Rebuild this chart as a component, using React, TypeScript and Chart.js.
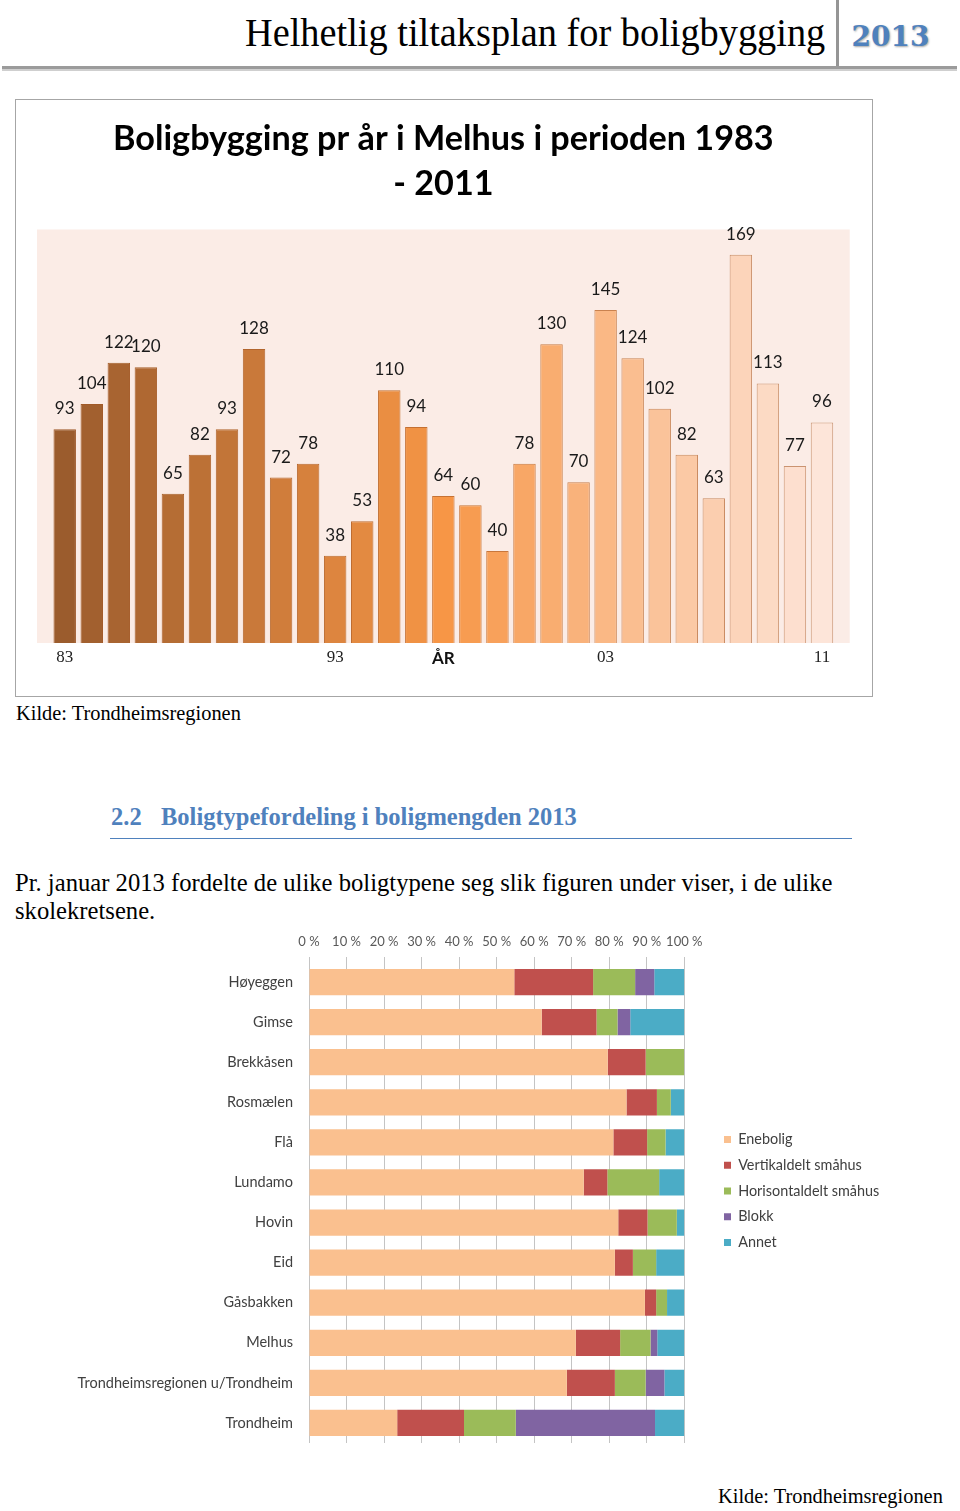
import React, { useEffect, useRef } from 'react';
import { Chart, registerables } from 'chart.js';

Chart.register(...registerables);

// ---------- Data: chart 1 (dwellings built per year, Melhus 1983-2011) ----------
const years = ['83', '84', '85', '86', '87', '88', '89', '90', '91', '92', '93', '94', '95', '96', '97', '98', '99', '00', '01', '02', '03', '04', '05', '06', '07', '08', '09', '10', '11'];
const dwellings = [93, 104, 122, 120, 65, 82, 93, 128, 72, 78, 38, 53, 110, 94, 64, 60, 40, 78, 130, 70, 145, 124, 102, 82, 63, 169, 113, 77, 96];
const shownYearTicks = ['83', '93', '03', '11'];
const chart1Title = ['Boligbygging pr år i Melhus i perioden 1983', '- 2011'];
const chart1AxisTitle = 'ÅR';

// ---------- Data: chart 2 (dwelling types per school district, %) ----------
const districts = ['Høyeggen', 'Gimse', 'Brekkåsen', 'Rosmælen', 'Flå', 'Lundamo', 'Hovin', 'Eid', 'Gåsbakken', 'Melhus', 'Trondheimsregionen u/Trondheim', 'Trondheim'];
const enebolig = [54.7, 62.0, 79.6, 84.6, 81.1, 73.2, 82.4, 81.5, 89.5, 71.1, 68.7, 23.5];
const vertikaldelt = [21.0, 14.6, 10.1, 8.1, 9.0, 6.3, 7.8, 4.8, 3.0, 11.8, 12.8, 17.8];
const horisontaldelt = [11.2, 5.6, 10.3, 3.7, 4.9, 13.8, 7.8, 6.2, 2.9, 8.1, 8.2, 13.8];
const blokk = [5.1, 3.4, 0, 0, 0, 0, 0, 0, 0, 1.8, 5.0, 37.1];
const annet = [8.0, 14.4, 0, 3.6, 5.0, 6.7, 2.0, 7.5, 4.6, 7.2, 5.3, 7.8];
const seriesNames = ['Enebolig', 'Vertikaldelt småhus', 'Horisontaldelt småhus', 'Blokk', 'Annet'];
const seriesColors = ['#fac08f', '#c0504d', '#9bbb59', '#8064a2', '#4bacc6'];

// ---------- style helpers ----------
const DARK = [155, 92, 45];
const MID = [247, 150, 70];
const LIGHT = [253, 229, 217];
const EDGE = [160, 85, 35];
function mix(a: number[], b: number[], t: number) {
  return a.map((v, k) => Math.round(v + (b[k] - v) * t));
}
function rgb(c: number[]) {
  return `rgb(${c[0]},${c[1]},${c[2]})`;
}
function barFill(i: number, n: number) {
  const midIdx = 14;
  return i <= midIdx ? mix(DARK, MID, i / midIdx) : mix(MID, LIGHT, (i - midIdx) / (n - 1 - midIdx));
}

const plotBgPlugin = {
  id: 'plotBg',
  beforeDatasetsDraw(chart: any) {
    const { ctx, chartArea } = chart;
    ctx.save();
    ctx.fillStyle = '#fbece6';
    ctx.fillRect(chartArea.left - 14.2, chartArea.top, chartArea.right - chartArea.left + 28.4, chartArea.bottom - chartArea.top);
    ctx.restore();
  },
};

const valueLabelPlugin = {
  id: 'valueLabels',
  afterDatasetsDraw(chart: any) {
    const { ctx } = chart;
    const meta = chart.getDatasetMeta(0);
    const values = chart.data.datasets[0].data;
    ctx.save();
    ctx.font = '17px Lato';
    ctx.fillStyle = '#1a1a1a';
    ctx.textAlign = 'center';
    ctx.textBaseline = 'middle';
    meta.data.forEach((el: any, i: number) => {
      ctx.fillText(String(values[i]), el.x, el.y - 20.5);
    });
    ctx.restore();
  },
};

// keeps the legend box at a fixed width so it starts where the reference legend starts
const LEGEND_WIDTH = 247.35;
const fixedLegendWidthPlugin = {
  id: 'fixedLegendWidth',
  afterInit(chart: any) {
    const leg = chart.legend;
    if (!leg || leg.__fixed) return;
    const orig = leg.fit.bind(leg);
    leg.fit = function () {
      orig();
      this.width = LEGEND_WIDTH;
    };
    leg.__fixed = true;
  },
};

export default function App() {
  const c1 = useRef<HTMLCanvasElement | null>(null);
  const c2 = useRef<HTMLCanvasElement | null>(null);

  useEffect(() => {
    const n = dwellings.length;
    const fills = dwellings.map((_, i) => rgb(barFill(i, n)));
    const borders = dwellings.map((_, i) => rgb(mix(barFill(i, n), EDGE, 0.55)));

    const chart1 = new Chart(c1.current as HTMLCanvasElement, {
      type: 'bar',
      data: {
        labels: years,
        datasets: [
          {
            data: dwellings,
            backgroundColor: fills,
            borderColor: borders,
            borderWidth: 1,
            barPercentage: 0.83,
            categoryPercentage: 1,
          },
        ],
      },
      options: {
        animation: false,
        responsive: false,
        maintainAspectRatio: false,
        layout: { padding: { left: 35.2, right: 35.5, top: 0, bottom: 12 } },
        plugins: {
          legend: { display: false },
          tooltip: { enabled: false },
          title: {
            display: true,
            text: chart1Title,
            color: '#000',
            font: { family: 'Lato', weight: 'bold', size: 34.2, lineHeight: 45 / 34.2 },
            padding: { top: 16.5, bottom: 23 },
          },
        },
        scales: {
          x: {
            grid: { display: false, drawTicks: false },
            border: { display: false },
            ticks: {
              autoSkip: false,
              maxRotation: 0,
              padding: 4,
              color: '#222',
              font: { family: 'Liberation Serif', size: 17 },
              callback: (_v: any, i: number) => (shownYearTicks.includes(years[i]) ? years[i] : ''),
            },
            title: {
              display: true,
              text: chart1AxisTitle,
              color: '#111',
              font: { family: 'Lato', weight: 'bold', size: 17 },
              padding: { top: 0, bottom: 13.8 },
            },
            afterFit: (s: any) => {
              s.height = 40;
            },
          },
          y: { display: false, min: 0, max: 180 },
        },
      } as any,
      plugins: [plotBgPlugin, valueLabelPlugin],
    });

    const seriesData = [enebolig, vertikaldelt, horisontaldelt, blokk, annet];
    const chart2 = new Chart(c2.current as HTMLCanvasElement, {
      type: 'bar',
      data: {
        labels: districts,
        datasets: seriesNames.map((name, k) => ({
          label: name,
          data: seriesData[k],
          backgroundColor: seriesColors[k],
          borderWidth: 0,
          barPercentage: 0.656,
          categoryPercentage: 1,
          xAxisID: 'x',
          yAxisID: 'y',
        })),
      },
      options: {
        indexAxis: 'y',
        animation: false,
        responsive: false,
        maintainAspectRatio: false,
        layout: { padding: { left: 0, right: 0, top: 0, bottom: 0 } },
        plugins: {
          tooltip: { enabled: false },
          legend: {
            position: 'right',
            align: 'center',
            labels: {
              boxWidth: 7,
              boxHeight: 7,
              padding: 11.35,
              color: '#404040',
              font: { family: 'Lato', size: 14.4 },
            },
          },
        },
        scales: {
          x: {
            position: 'top',
            stacked: true,
            min: 0,
            max: 100,
            ticks: {
              stepSize: 10,
              autoSkip: false,
              maxRotation: 0,
              padding: 7,
              color: '#595959',
              font: { family: 'Lato', size: 13 },
              callback: (v: any) => `${v} %`,
            },
            grid: { color: '#c4c4c4', tickLength: 5, drawTicks: true },
            border: { display: false },
            afterFit: (s: any) => {
              s.height = 51;
              s.paddingLeft = 0;
              s.paddingRight = 0;
            },
          },
          y: {
            stacked: true,
            grid: { display: false, drawTicks: false },
            border: { display: false },
            ticks: {
              autoSkip: false,
              padding: 16,
              color: '#404040',
              font: { family: 'Lato', size: 14.5 },
            },
            afterFit: (s: any) => {
              s.width = 309;
              s.paddingTop = 0;
              s.paddingBottom = 0;
            },
          },
          gapRight: {
            type: 'linear',
            axis: 'y',
            position: 'right',
            display: true,
            grid: { display: false, drawTicks: false },
            ticks: { display: false },
            border: { display: false },
            afterFit: (s: any) => {
              s.width = 28.35;
              s.paddingTop = 0;
              s.paddingBottom = 0;
            },
          },
          gapBottom: {
            type: 'linear',
            axis: 'x',
            position: 'bottom',
            display: true,
            grid: { display: false, drawTicks: false },
            ticks: { display: false },
            border: { display: false },
            afterFit: (s: any) => {
              s.height = 28;
              s.paddingLeft = 0;
              s.paddingRight = 0;
            },
          },
        },
      } as any,
      plugins: [fixedLegendWidthPlugin],
    });

    return () => {
      chart1.destroy();
      chart2.destroy();
    };
  }, []);

  const serif = "'Liberation Serif', 'Times New Roman', serif";
  const abs = (o: React.CSSProperties): React.CSSProperties => ({ position: 'absolute', whiteSpace: 'nowrap', margin: 0, ...o });

  return (
    <div style={{ position: 'absolute', left: 0, top: 0, width: 960, height: 1511, background: '#fff', overflow: 'hidden' }}>
      {/* Page header */}
      <div style={abs({ left: 245, top: 12.4, fontFamily: serif, fontSize: 41, lineHeight: '41px', color: '#000', transform: 'scaleX(0.935)', transformOrigin: 'left top' })}>
        Helhetlig tiltaksplan for boligbygging
      </div>
      <div style={abs({ left: 836, top: 0, width: 2.5, height: 70, background: '#959595' })} />
      <div style={abs({ left: 851.5, top: 23, fontFamily: "'DejaVu Serif', serif", fontWeight: 'bold', fontSize: 28, lineHeight: '28px', color: '#4f81bd', textShadow: '1px 1px 2px rgba(0,0,0,0.35)' })}>
        2013
      </div>
      <div style={abs({ left: 2, top: 66, width: 955, height: 3, background: '#9b9b9b' })} />
      <div style={abs({ left: 2, top: 69, width: 955, height: 1.5, background: '#cfcfcf' })} />

      {/* Chart 1 frame */}
      <div style={abs({ left: 15, top: 99, width: 858, height: 598, border: '1px solid #a6a6a6', boxSizing: 'border-box' })} />
      <canvas ref={c1} width={855} height={595} style={{ position: 'absolute', left: 16, top: 100, width: 855, height: 595 }} />

      <div style={abs({ left: 16, top: 703, fontFamily: serif, fontSize: 20.4, lineHeight: '20.4px', color: '#000' })}>
        Kilde: Trondheimsregionen
      </div>

      {/* Section heading */}
      <div style={abs({ left: 111, top: 804.5, fontFamily: serif, fontWeight: 'bold', fontSize: 24.5, lineHeight: '24.5px', color: '#4f81bd' })}>
        2.2
      </div>
      <div style={abs({ left: 161, top: 804.5, fontFamily: serif, fontWeight: 'bold', fontSize: 24.5, lineHeight: '24.5px', color: '#4f81bd' })}>
        Boligtypefordeling i boligmengden 2013
      </div>
      <div style={abs({ left: 110, top: 838, width: 742, height: 1, background: '#4f81bd' })} />

      {/* Paragraph */}
      <div style={abs({ left: 15, top: 868.7, fontFamily: serif, fontSize: 24.65, lineHeight: '28px', color: '#000' })}>
        Pr. januar 2013 fordelte de ulike boligtypene seg slik figuren under viser, i de ulike
        <br />
        skolekretsene.
      </div>

      {/* Chart 2 */}
      <canvas ref={c2} width={960} height={560} style={{ position: 'absolute', left: 0, top: 911, width: 960, height: 560 }} />

      <div style={abs({ left: 718, top: 1486, fontFamily: serif, fontSize: 20.4, lineHeight: '20.4px', color: '#000' })}>
        Kilde: Trondheimsregionen
      </div>
    </div>
  );
}
